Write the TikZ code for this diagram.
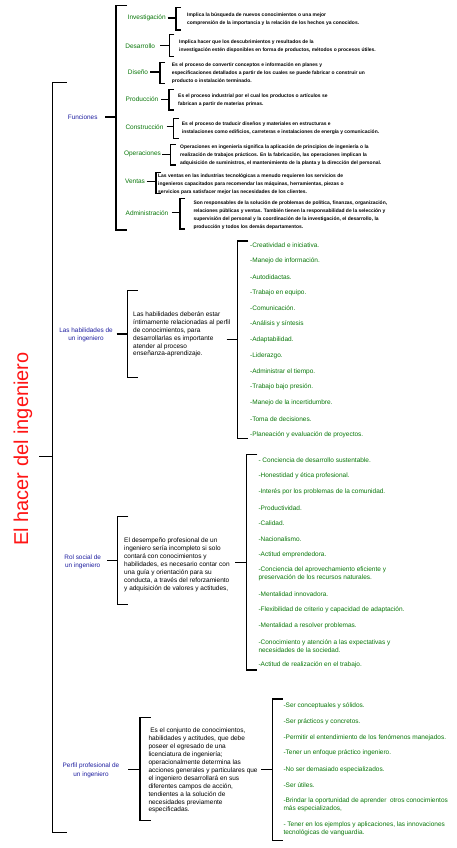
\documentclass[tikz,border=0pt]{standalone}
\usepackage{fontspec}
\setmainfont{Liberation Sans}
\definecolor{lgreen}{RGB}{10,120,10}
\definecolor{lblue}{RGB}{30,30,160}
\definecolor{lred}{RGB}{255,20,20}
\newcommand{\brkt}[4]{\draw[brkline] (#1+#4,#2) -- (#1,#2) -- (#1,#3) -- (#1+#4,#3);}
\begin{document}
\begin{tikzpicture}[x=1pt,y=-1pt,
  brkline/.style={line width=1.3pt,black,line join=miter},
  conn/.style={line width=1.3pt,black},
  lab/.style={text=lgreen,inner sep=0pt,font=\fontsize{6.5}{8}\selectfont},
  blab/.style={text=lblue,align=center,inner sep=0pt,font=\fontsize{6.4}{8.3}\selectfont},
  fdesc/.style={anchor=west,align=left,inner sep=0pt,font=\bfseries\fontsize{4.95}{8}\selectfont},
  desc/.style={anchor=west,align=left,inner sep=0pt,font=\fontsize{6.5}{7.9}\selectfont},
  item/.style={anchor=west,align=left,inner sep=0pt,text=lgreen,font=\fontsize{6.5}{8}\selectfont}]
\fill[white] (0,0) rectangle (457,848);
\useasboundingbox (0,0) rectangle (457,848);

% title and main bracket
\node[rotate=90,text=lred,inner sep=0pt,font=\fontsize{20}{24}\selectfont] (title) at (23,449) {El hacer del ingeniero};
\coordinate (mc) at (39.3,456.7);
\coordinate (mb) at (52.7,456.7);
\draw[conn] (mc) -- (mb);
\brkt{52.7}{82.7}{832.5}{14}

% Funciones
\node[blab] (fun) at (82.7,117) {Funciones};
\coordinate (fun-s) at (105,117);
\coordinate (fun-b) at (116,117);
\draw[conn] (fun-s) -- (fun-b);
\brkt{116}{5.7}{230}{11}

\node[lab] (inv) at (146.7,18) {Investigación};
\coordinate (inv-s) at (167.7,18); \coordinate (inv-b) at (176,18);
\draw[conn] (inv-s) -- (inv-b);
\brkt{176}{7.3}{30}{5}
\node[fdesc] (inv-d) at (187,18.8) {Implica la búsqueda de nuevos conocimientos o una mejor\\comprensión de la importancia y la relación de los hechos ya conocidos.};

\node[lab] (des) at (140.2,45.7) {Desarrollo};
\coordinate (des-s) at (160,45.7); \coordinate (des-b) at (169.3,45.7);
\draw[conn] (des-s) -- (des-b);
\brkt{169.3}{34.3}{56.7}{5}
\node[fdesc] (des-d) at (179,46.7) {Implica hacer que los descubrimientos y resultados de la\\investigación estén disponibles en forma de productos, métodos o procesos útiles.};

\node[lab] (dis) at (138,72) {Diseño};
\coordinate (dis-s) at (150,72); \coordinate (dis-b) at (160,72);
\draw[conn] (dis-s) -- (dis-b);
\brkt{160}{62.3}{83.3}{5}
\node[fdesc] (dis-d) at (171.7,73) {Es el proceso de convertir conceptos e información en planes y\\especificaciones detallados a partir de los cuales se puede fabricar o construir un\\producto o instalación terminado.};

\node[lab] (pro) at (142,99.3) {Producción};
\coordinate (pro-s) at (161,99.3); \coordinate (pro-b) at (169,99.3);
\draw[conn] (pro-s) -- (pro-b);
\brkt{169}{89.3}{110}{5}
\node[fdesc] (pro-d) at (178,100) {Es el proceso industrial por el cual los productos o artículos se\\fabrican a partir de materias primas.};

\node[lab] (con) at (144.5,126.7) {Construcción};
\coordinate (con-s) at (166.7,126.7); \coordinate (con-b) at (173.5,126.7);
\draw[conn] (con-s) -- (con-b);
\brkt{173.5}{118.3}{138.3}{5}
\node[fdesc] (con-d) at (181.7,127.9) {Es el proceso de traducir diseños y materiales en estructuras e\\instalaciones como edificios, carreteras e instalaciones de energía y comunicación.};

\node[lab] (ope) at (142.5,154.3) {Operaciones};
\coordinate (ope-s) at (162,154.3); \coordinate (ope-b) at (170.5,154.3);
\draw[conn] (ope-s) -- (ope-b);
\brkt{170.5}{144.3}{165}{5}
\node[fdesc] (ope-d) at (180,155.5) {Operaciones en ingeniería significa la aplicación de principios de ingeniería o la\\realización de trabajos prácticos. En la fabricación, las operaciones implican la\\adquisición de suministros, el mantenimiento de la planta y la dirección del personal.};

\node[lab] (ven) at (135,181.7) {Ventas};
\coordinate (ven-s) at (146.7,181.7); \coordinate (ven-b) at (156,181.7);
\draw[conn] (ven-s) -- (ven-b);
\brkt{156}{172.3}{193.3}{5}
\node[fdesc] (ven-d) at (158,183.8) {Las ventas en las industrias tecnológicas a menudo requieren los servicios de\\ingenieros capacitados para recomendar las máquinas, herramientas, piezas o\\servicios para satisfacer mejor las necesidades de los clientes.};

\node[lab] (adm) at (147,212.7) {Administración};
\coordinate (adm-s) at (171.7,212.7); \coordinate (adm-b) at (180,212.7);
\draw[conn] (adm-s) -- (adm-b);
\brkt{180}{198.3}{229}{5}
\node[fdesc] (adm-d) at (193.3,215) {Son responsables de la solución de problemas de política, finanzas, organización,\\relaciones públicas y ventas. También tienen la responsabilidad de la selección y\\supervisión del personal y la coordinación de la investigación, el desarrollo, la\\producción y todos los demás departamentos.};

% Habilidades
\node[blab] (hab) at (86,334.6) {Las habilidades de\\un ingeniero};
\coordinate (hab-s) at (116.7,334); \coordinate (hab-b) at (127.3,334);
\draw[conn] (hab-s) -- (hab-b);
\brkt{127.3}{290.7}{377.3}{10.4}
\node[desc] (hab-d) at (133,334.5) {Las habilidades deberán estar\\íntimamente relacionadas al perfil\\de conocimientos, para\\desarrollarlas es importante\\atender al proceso\\enseñanza-aprendizaje.};
\coordinate (hab-ds) at (226.7,339.3); \coordinate (hab-db) at (237.3,339.3);
\draw[conn] (hab-ds) -- (hab-db);
\brkt{237.3}{241}{438.3}{11}
\foreach \t [count=\i] in {-Creatividad e iniciativa.,-Manejo de información.,-Autodidactas.,-Trabajo en equipo.,-Comunicación.,-Análisis y síntesis,-Adaptabilidad.,-Liderazgo.,-Administrar el tiempo.,-Trabajo bajo presión.,-Manejo de la incertidumbre.,-Toma de decisiones.,-Planeación y evaluación de proyectos.}
  \node[item] (hab-i\i) at (250,{245.5+(\i-1)*15.75}) {\t};

% Rol social
\node[blab] (rol) at (82.7,561.6) {Rol social de\\un ingeniero};
\coordinate (rol-s) at (107.3,560.7); \coordinate (rol-b) at (117.7,560.7);
\draw[conn] (rol-s) -- (rol-b);
\brkt{117.7}{516.7}{604.3}{10.6}
\node[desc] (rol-d) at (124,565) {El desempeño profesional de un\\ingeniero sería incompleto si solo\\contará con conocimientos y\\habilidades, es necesario contar con\\una guía y orientación para su\\conducta, a través del reforzamiento\\y adquisición de valores y actitudes,};
\coordinate (rol-ds) at (235,562.7); \coordinate (rol-db) at (246.7,562.7);
\draw[conn] (rol-ds) -- (rol-db);
\brkt{246.7}{454.3}{670}{10.6}
\node[item] (rol-i1) at (258.3,460.5) {- Conciencia de desarrollo sustentable.};
\node[item] (rol-i2) at (258.3,476.2) {-Honestidad y ética profesional.};
\node[item] (rol-i3) at (258.3,492.2) {-Interés por los problemas de la comunidad.};
\node[item] (rol-i4) at (258.3,507.8) {-Productividad.};
\node[item] (rol-i5) at (258.3,523.2) {-Calidad.};
\node[item] (rol-i6) at (258.3,538.8) {-Nacionalismo.};
\node[item] (rol-i7) at (258.3,554.8) {-Actitud emprendedora.};
\node[item] (rol-i8) at (258.3,574) {-Conciencia del aprovechamiento eficiente y\\preservación de los recursos naturales.};
\node[item] (rol-i9) at (258.3,594.5) {-Mentalidad innovadora.};
\node[item] (rol-i10) at (258.3,609.8) {-Flexibilidad de criterio y capacidad de adaptación.};
\node[item] (rol-i11) at (258.3,625.5) {-Mentalidad a resolver problemas.};
\node[item] (rol-i12) at (258.3,645.7) {-Conocimiento y atención a las expectativas y\\necesidades de la sociedad.};
\node[item] (rol-i13) at (258.3,664.8) {-Actitud de realización en el trabajo.};

% Perfil profesional
\node[blab] (per) at (91,770.2) {Perfil profesional de\\un ingeniero};
\coordinate (per-s) at (128.3,769.3); \coordinate (per-b) at (140,769.3);
\draw[conn] (per-s) -- (per-b);
\brkt{140}{717.3}{820.7}{10.7}
\node[desc] (per-d) at (148.3,770.8) {\ Es el conjunto de conocimientos,\\habilidades y actitudes, que debe\\poseer el egresado de una\\licenciatura de ingeniería;\\operacionalmente determina las\\acciones generales y particulares que\\el ingeniero desarrollará en sus\\diferentes campos de acción,\\tendientes a la solución de\\necesidades previamente\\especificadas.};
\coordinate (per-ds) at (261,769.3); \coordinate (per-db) at (272.7,769.3);
\draw[conn] (per-ds) -- (per-db);
\brkt{272.7}{699}{840.7}{10}
\node[item] (per-i1) at (283.3,706.2) {-Ser conceptuales y sólidos.};
\node[item] (per-i2) at (283.3,722.2) {-Ser prácticos y concretos.};
\node[item] (per-i3) at (283.3,737.8) {-Permitir el entendimiento de los fenómenos manejados.};
\node[item] (per-i4) at (283.3,753.2) {-Tener un enfoque práctico ingeniero.};
\node[item] (per-i5) at (283.3,769.5) {-No ser demasiado especializados.};
\node[item] (per-i6) at (283.3,784.8) {-Ser útiles.};
\node[item] (per-i7) at (283.3,804.5) {-Brindar la oportunidad de aprender \ otros conocimientos\\más especializados,};
\node[item] (per-i8) at (283.3,828.8) {- Tener en los ejemplos y aplicaciones, las innovaciones\\tecnológicas de vanguardia.};
\end{tikzpicture}
\end{document}
